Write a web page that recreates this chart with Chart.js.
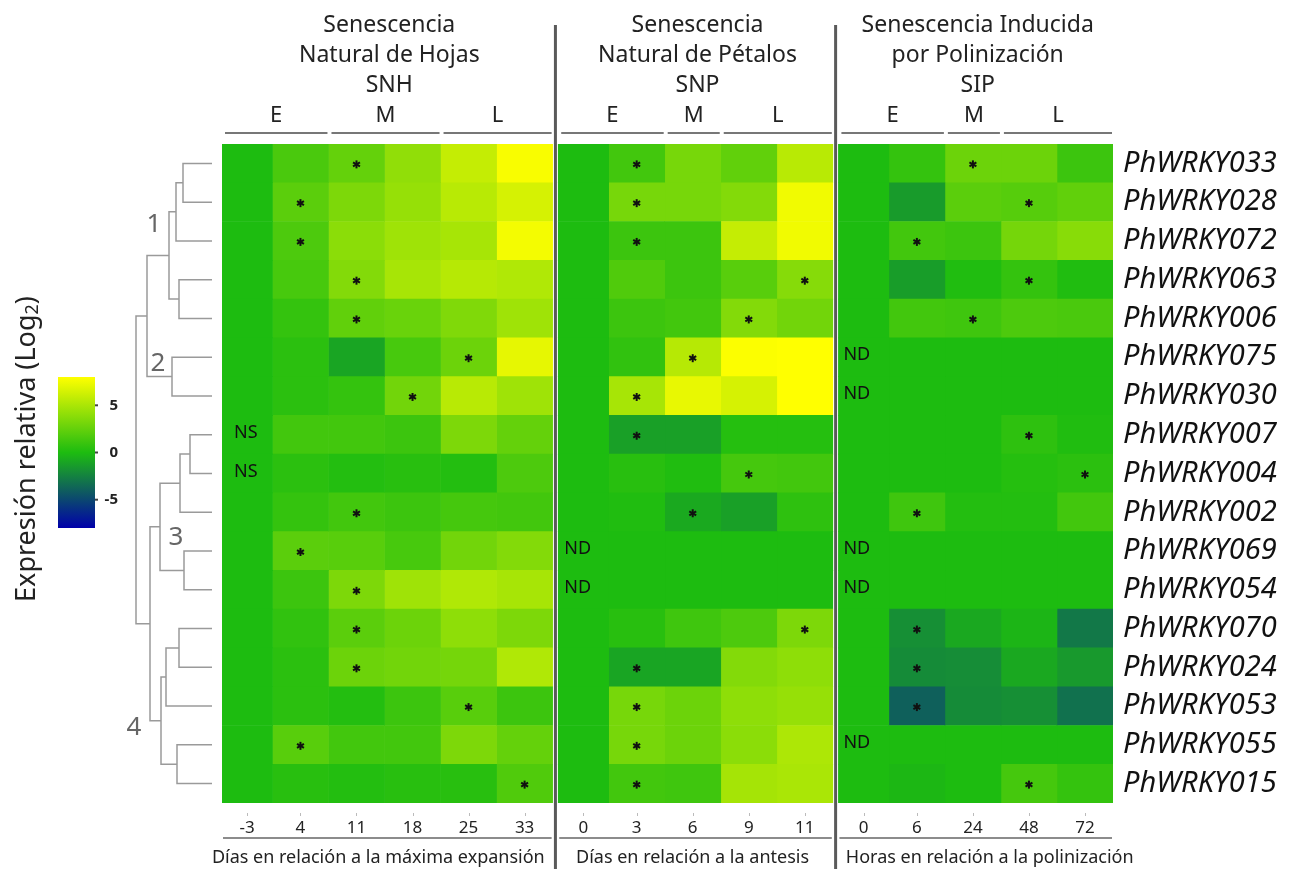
<!DOCTYPE html>
<html>
<head>
<meta charset="utf-8">
<script src="https://cdn.jsdelivr.net/npm/chart.js@4.4.0/dist/chart.umd.min.js"></script>
<style>
  body { margin: 0; background: #fff; }
</style>
</head>
<body>
<canvas id="heatChart" width="1298" height="869"></canvas>
<script>
const genes = ['PhWRKY033','PhWRKY028','PhWRKY072','PhWRKY063','PhWRKY006','PhWRKY075','PhWRKY030',
  'PhWRKY007','PhWRKY004','PhWRKY002','PhWRKY069','PhWRKY054','PhWRKY070','PhWRKY024',
  'PhWRKY053','PhWRKY055','PhWRKY015'];

const timesSNH = ['-3','4','11','18','25','33'];
const timesSNP = ['0','3','6','9','11'];
const timesSIP = ['0','6','24','48','72'];

const stagesSNH = ['E','E','M','M','L','L'];
const stagesSNP = ['E','E','M','L','L'];
const stagesSIP = ['E','E','M','L','L'];

const titleSNH = ['Senescencia','Natural de Hojas','SNH'];
const titleSNP = ['Senescencia','Natural de Pétalos','SNP'];
const titleSIP = ['Senescencia Inducida','por Polinización','SIP'];

const axisSNH = 'Días en relación a la máxima expansión';
const axisSNP = 'Días en relación a la antesis';
const axisSIP = 'Horas en relación a la polinización';

// log2 relative expression, one row per gene
const valSNH = [
  [0, 1.6, 2.5, 4.1, 5.9, 7.8],
  [0, 2.2, 3.4, 4.3, 5.5, 6.5],
  [0, 1.7, 3.9, 4.6, 4.9, 7.6],
  [0, 1.5, 3.6, 4.9, 5.4, 5.2],
  [0, 0.8, 2.4, 2.7, 3.5, 4.6],
  [0, 0.5, -1.0, 1.5, 2.8, 7.1],
  [0, 0.5, 0.8, 3.0, 5.5, 4.6],
  [0, 1.3, 1.3, 1.1, 3.4, 2.5],
  [0, 0.5, 0.2, 0.4, 0.2, 1.7],
  [0, 0.8, 1.3, 1.1, 1.4, 1.3],
  [0, 2.2, 2.1, 1.5, 3.0, 3.6],
  [0, 1.1, 3.4, 4.6, 5.2, 4.9],
  [0, 0.7, 2.2, 2.8, 4.0, 3.4],
  [0, 0.5, 2.8, 3.0, 3.1, 5.2],
  [0, 0.5, 0.2, 1.1, 2.1, 1.1],
  [0, 2.1, 1.3, 1.3, 3.4, 2.5],
  [0, 0.4, 0.2, 0.4, 0.4, 1.8]
];
const valSNP = [
  [0, 1.3, 3.2, 2.4, 5.5],
  [0, 3.2, 3.2, 3.6, 7.5],
  [0, 1.1, 1.1, 5.9, 7.5],
  [0, 1.8, 1.1, 2.1, 3.7],
  [0, 1.1, 1.3, 3.6, 3.0],
  [0, 0.7, 5.4, 7.9, 8.0],
  [0, 4.9, 7.2, 6.5, 8.0],
  [0, -1.2, -1.2, 0.3, 0.3],
  [0, 0.4, 0.1, 1.4, 1.3],
  [0, 0.1, -0.8, -1.2, 0.6],
  [0, 0, 0, 0, 0],
  [0, 0, 0, 0, 0],
  [0, 0.4, 1.2, 1.7, 3.4],
  [0, -1.0, -1.0, 3.6, 4.0],
  [0, 3.2, 2.8, 4.0, 4.3],
  [0, 3.2, 2.8, 3.9, 5.1],
  [0, 1.3, 1.2, 4.8, 5.0]
];
const valSIP = [
  [0, 0.8, 2.8, 2.8, 1.1],
  [0, -1.4, 2.2, 2.0, 2.4],
  [0, 1.3, 1.1, 3.1, 3.8],
  [0, -1.3, 0.1, 0.8, 0.1],
  [0, 1.3, 1.2, 1.7, 1.6],
  [0, 0, 0, 0, 0],
  [0, 0, 0, 0, 0],
  [0, 0, 0, 0.6, 0.1],
  [0, 0, 0, 0.3, 0.5],
  [0, 1.2, 0.2, 0.2, 1.3],
  [0, 0, 0, 0, 0],
  [0, 0, 0, 0, 0],
  [0, -1.9, -0.85, -0.3, -2.9],
  [0, -2.1, -2.0, -0.85, -1.5],
  [0, -3.9, -2.1, -1.9, -3.2],
  [0, 0, 0, 0, 0],
  [0, -0.2, 0, 1.4, 0.8]
];

// time point marked significant (*) for each gene
const sigSNH = ['11','4','4','11','11','25','18',null,null,'11','4','11','11','11','25','4','33'];
const sigSNP = ['3','3','3','11','9','6','3','3','9','6',null,null,'11','3','3','3','3'];
const sigSIP = ['24','48','6','48','24',null,null,'48','72','6',null,null,'6','6','6',null,'48'];

const noteSNH = [null,null,null,null,null,null,null,'NS','NS',null,null,null,null,null,null,null,null];
const noteSNP = [null,null,null,null,null,null,null,null,null,null,'ND','ND',null,null,null,null,null];
const noteSIP = [null,null,null,null,null,'ND','ND',null,null,null,'ND','ND',null,null,null,'ND',null];

// dendrogram merges: [node a, node b, height]; leaves are 0..16, new nodes from 17
const dendroMerges = [[0,1,29],[17,2,36],[3,4,33],[18,19,43],[5,6,40],[20,21,65],
  [7,8,22],[23,9,32],[10,11,28],[24,25,52],[12,13,33],[27,14,46],[15,16,35],
  [28,29,51],[26,30,62],[22,31,76]];
const clusterNames = ['1','2','3','4'];

const colorbarTicks = [5, 0, -5];
const colorMin = -8, colorMax = 8;

const panels = [
  {start: 0, times: timesSNH, vals: valSNH, sig: sigSNH, notes: noteSNH, stages: stagesSNH, title: titleSNH, axis: axisSNH, axisShift: -9, noteInset: 12},
  {start: 6, times: timesSNP, vals: valSNP, sig: sigSNP, notes: noteSNP, stages: stagesSNP, title: titleSNP, axis: axisSNP, axisShift: -3, noteInset: 6},
  {start: 11, times: timesSIP, vals: valSIP, sig: sigSIP, notes: noteSIP, stages: stagesSIP, title: titleSIP, axis: axisSIP, axisShift: 14, noteInset: 5}
];

function heatColor(v) {
  const mid = [29, 188, 16], hi = [255, 255, 0], lo = [0, 0, 170];
  const t = Math.min(1, Math.abs(v) / colorMax);
  const end = v >= 0 ? hi : lo;
  const c = mid.map((m, i) => Math.round(m + (end[i] - m) * t));
  return 'rgb(' + c.join(',') + ')';
}

function colEdges(p, c) {
  return [p.start + (c === 0 ? 0.1 : c), p.start + c + 1];
}

const datasets = [];
panels.forEach(p => p.times.forEach((t, c) => {
  const [a, b] = colEdges(p, c);
  datasets.push({
    label: p.title[2] + ' ' + t,
    data: genes.map(() => [a, b]),
    backgroundColor: genes.map((g, r) => heatColor(p.vals[r][c])),
    borderWidth: 0,
    grouped: false,
    barPercentage: 1,
    categoryPercentage: 1
  });
}));

const tickVals = panels.flatMap(p => p.times.map((t, c) => {
  const [a, b] = colEdges(p, c);
  return (a + b) / 2;
}));
const tickText = panels.flatMap(p => p.times);

const FONT = '"Noto Sans", sans-serif';

const decorations = {
  id: 'decorations',
  afterDraw(chart) {
    const {ctx, chartArea: area, scales: {x, y}} = chart;
    ctx.save();
    ctx.textAlign = 'center';
    ctx.textBaseline = 'middle';

    panels.forEach(p => {
      const left = x.getPixelForValue(p.start + 0.1);
      const right = x.getPixelForValue(p.start + p.times.length);
      const mid = (left + right) / 2;

      ctx.fillStyle = '#222';
      ctx.font = '23px ' + FONT;
      p.title.forEach((line, i) => ctx.fillText(line, mid + 2, 25 + i * 30));

      // stage groups E / M / L
      const groups = [];
      p.stages.forEach((s, c) => {
        const [a, b] = colEdges(p, c);
        const last = groups[groups.length - 1];
        if (last && last.name === s) last.b = b; else groups.push({name: s, a: a, b: b});
      });
      groups.forEach(g => {
        const ga = x.getPixelForValue(g.a), gb = x.getPixelForValue(g.b);
        ctx.fillStyle = '#222';
        ctx.font = '22px ' + FONT;
        ctx.fillText(g.name, (ga + gb) / 2 + 1, 116);
        ctx.strokeStyle = '#777';
        ctx.lineWidth = 2;
        ctx.beginPath();
        ctx.moveTo(ga + 3, 133);
        ctx.lineTo(gb - 1, 133);
        ctx.stroke();
      });

      // bottom rule + axis title
      ctx.strokeStyle = '#666';
      ctx.lineWidth = 1.5;
      ctx.beginPath();
      ctx.moveTo(left + 1, 838);
      ctx.lineTo(right - 1, 838);
      ctx.stroke();
      ctx.fillStyle = '#222';
      ctx.font = '18px ' + FONT;
      ctx.fillText(p.axis, mid + p.axisShift, 858);

      // tick dots
      ctx.strokeStyle = '#bbb';
      ctx.lineWidth = 1;
      p.times.forEach((t, c) => {
        const [a, b] = colEdges(p, c);
        const px = Math.round(x.getPixelForValue((a + b) / 2)) + 0.5;
        ctx.beginPath();
        ctx.moveTo(px, 813);
        ctx.lineTo(px, 816);
        ctx.stroke();
      });

      // significance asterisks
      ctx.strokeStyle = '#111';
      ctx.lineWidth = 2;
      p.sig.forEach((t, r) => {
        if (t === null) return;
        const c = p.times.indexOf(t);
        const [a, b] = colEdges(p, c);
        const cx = x.getPixelForValue((a + b) / 2);
        const cy = y.getPixelForValue(r) + 1;
        for (let k = 0; k < 3; k++) {
          const ang = Math.PI / 2 + k * Math.PI / 3;
          ctx.beginPath();
          ctx.moveTo(cx - 4 * Math.cos(ang), cy - 4 * Math.sin(ang));
          ctx.lineTo(cx + 4 * Math.cos(ang), cy + 4 * Math.sin(ang));
          ctx.stroke();
        }
      });

      // ND / NS notes
      ctx.fillStyle = '#111';
      ctx.font = '18px ' + FONT;
      ctx.textAlign = 'left';
      p.notes.forEach((n, r) => {
        if (!n) return;
        ctx.fillText(n, left + p.noteInset, y.getPixelForValue(r) - 2);
      });
      ctx.textAlign = 'center';
    });

    // panel separators
    ctx.strokeStyle = '#5a5a5a';
    ctx.lineWidth = 3;
    panels.slice(1).forEach(p => {
      const sx = x.getPixelForValue(p.start + 0.05);
      ctx.beginPath();
      ctx.moveTo(sx, 25);
      ctx.lineTo(sx, 869);
      ctx.stroke();
    });

    // dendrogram
    const leafX = area.left - 10;
    const nodes = genes.map((g, i) => ({x: leafX, y: y.getPixelForValue(i)}));
    ctx.strokeStyle = '#9a9a9a';
    ctx.lineWidth = 1.5;
    dendroMerges.forEach(([a, b, h]) => {
      const na = nodes[a], nb = nodes[b];
      const nx = leafX - h;
      ctx.beginPath();
      ctx.moveTo(na.x, na.y); ctx.lineTo(nx, na.y);
      ctx.lineTo(nx, nb.y); ctx.lineTo(nb.x, nb.y);
      ctx.stroke();
      nodes.push({x: nx, y: (na.y + nb.y) / 2});
    });
    const clusterPos = [[154, 225], [158, 364], [176, 538], [134, 728]];
    ctx.fillStyle = '#666';
    ctx.font = '26px ' + FONT;
    clusterNames.forEach((n, i) => ctx.fillText(n, clusterPos[i][0], clusterPos[i][1]));

    // colour bar
    const cb = {l: 58, r: 95, t: 377, b: 528};
    const grad = ctx.createLinearGradient(0, cb.b, 0, cb.t);
    for (let i = 0; i <= 16; i++) {
      grad.addColorStop(i / 16, heatColor(colorMin + i * (colorMax - colorMin) / 16));
    }
    ctx.fillStyle = grad;
    ctx.fillRect(cb.l, cb.t, cb.r - cb.l, cb.b - cb.t);
    ctx.font = 'bold 15px ' + FONT;
    ctx.textAlign = 'right';
    colorbarTicks.forEach(v => {
      const ty = cb.t + (colorMax - v) / (colorMax - colorMin) * (cb.b - cb.t);
      ctx.strokeStyle = '#444';
      ctx.lineWidth = 2;
      ctx.beginPath();
      ctx.moveTo(cb.r, ty); ctx.lineTo(cb.r + 3, ty);
      ctx.stroke();
      ctx.fillStyle = '#222';
      ctx.fillText(String(v), 118, ty);
    });

    // vertical legend title
    ctx.save();
    ctx.translate(27, 449);
    ctx.rotate(-Math.PI / 2);
    ctx.fillStyle = '#222';
    const big = '27px ' + FONT, small = '18px ' + FONT;
    const s1 = 'Expresión relativa (Log', s2 = '2', s3 = ')';
    ctx.font = big; const w1 = ctx.measureText(s1).width, w3 = ctx.measureText(s3).width;
    ctx.font = small; const w2 = ctx.measureText(s2).width;
    let tx = -(w1 + w2 + w3) / 2;
    ctx.textAlign = 'left';
    ctx.font = big; ctx.fillText(s1, tx, 0); tx += w1;
    ctx.font = small; ctx.fillText(s2, tx, 6); tx += w2;
    ctx.font = big; ctx.fillText(s3, tx, 0);
    ctx.restore();

    ctx.restore();
  }
};

new Chart(document.getElementById('heatChart'), {
  type: 'bar',
  data: { labels: genes, datasets: datasets },
  options: {
    indexAxis: 'y',
    responsive: false,
    animation: false,
    devicePixelRatio: 1,
    layout: { padding: { left: 222, top: 144, right: 0, bottom: 0 } },
    plugins: { legend: { display: false }, tooltip: { enabled: false } },
    scales: {
      x: {
        type: 'linear',
        min: 0.1,
        max: 16,
        grid: { display: false, drawTicks: false },
        border: { display: false },
        ticks: {
          autoSkip: false,
          maxRotation: 0,
          padding: 15,
          color: '#222',
          font: { family: 'Noto Sans', size: 17 },
          callback: (v, i) => tickText[i]
        },
        afterBuildTicks: s => { s.ticks = tickVals.map(v => ({ value: v })); },
        afterFit: s => { s.height = 66; }
      },
      y: {
        type: 'category',
        position: 'right',
        grid: { display: false, drawTicks: false },
        border: { display: false },
        ticks: {
          padding: 10,
          color: '#111',
          font: { family: 'Noto Sans', size: 29, style: 'italic' }
        },
        afterFit: s => { s.width = 185; }
      }
    }
  },
  plugins: [decorations]
});
</script>
</body>
</html>
